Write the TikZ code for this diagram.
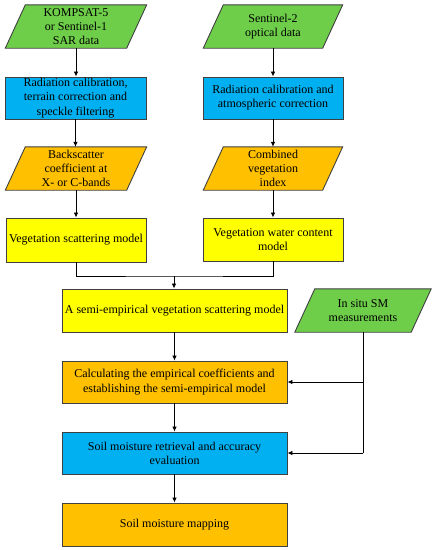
\documentclass[tikz,border=0pt]{standalone}
\usepackage{fontspec}
\setmainfont{Liberation Serif}
\usetikzlibrary{arrows.meta,backgrounds}
\definecolor{cgreen}{RGB}{110,206,74}
\definecolor{cblue}{RGB}{0,176,240}
\definecolor{corange}{RGB}{255,192,0}
\definecolor{cyellow}{RGB}{255,255,0}
\definecolor{cline}{RGB}{64,64,64}
\begin{document}
\begin{tikzpicture}[x=1pt,y=-1pt,
  font=\fontsize{12}{14.2}\selectfont,
  base/.style={inner sep=0pt,align=center,minimum height=43pt},
  boxnode/.style={base,draw=cline,line width=0.9pt,rectangle},
  paranode/.style={base,rectangle},
  link/.style={draw=black,line width=0.8pt},
  arr/.style={link,-{Latex[length=5pt,width=4.5pt]}}
]
\useasboundingbox (0,0) rectangle (436,550);
% parallelogram data nodes
\node[paranode,minimum width=121pt] (sar) at (76,26.5) {KOMPSAT-5\\or Sentinel-1\\SAR data};
\node[paranode,minimum width=119pt] (opt) at (273,26.5) {Sentinel-2\\optical data};
\node[paranode,minimum width=121pt] (bsc) at (76,168.5) {Backscatter\\coefficient at\\X- or C-bands};
\node[paranode,minimum width=119pt] (cvi) at (273,168.5) {Combined\\vegetation\\index};
\node[paranode,minimum width=116pt] (insitu) at (363,310.5) {In situ SM\\measurements};
\begin{scope}[on background layer]
\foreach \n/\c in {sar/cgreen,opt/cgreen,bsc/corange,cvi/corange,insitu/cgreen}{
  \filldraw[fill=\c,draw=cline,line width=0.9pt]
    ([xshift=10pt]\n.north west) -- ([xshift=10pt]\n.north east) --
    ([xshift=-10pt]\n.south east) -- ([xshift=-10pt]\n.south west) -- cycle;
}
\end{scope}
% process boxes
\node[boxnode,fill=cblue,minimum width=141pt,minimum height=42pt] (pre1) at (75.5,98) {Radiation calibration,\\terrain correction and\\speckle filtering};
\node[boxnode,fill=cblue,minimum width=140pt,minimum height=42pt] (pre2) at (273,98) {Radiation calibration and\\atmospheric correction};
\node[boxnode,fill=cyellow,minimum width=140pt,minimum height=44pt] (vsm) at (76,240) {Vegetation scattering model};
\node[boxnode,fill=cyellow,minimum width=140pt,minimum height=43pt] (vwc) at (273,239.5) {Vegetation water content\\model};
\node[boxnode,fill=cyellow,minimum width=225pt] (semi) at (174.5,310.5) {A semi-empirical vegetation scattering model};
\node[boxnode,fill=corange,minimum width=225pt,minimum height=42pt] (calc) at (174.5,382) {Calculating the empirical coefficients and\\establishing the semi-empirical model};
\node[boxnode,fill=cblue,minimum width=225pt,minimum height=42pt] (smr) at (174.5,453) {Soil moisture retrieval and accuracy\\evaluation};
\node[boxnode,fill=corange,minimum width=225pt] (map) at (174.5,524.5) {Soil moisture mapping};
% connectors
\draw[arr] (sar.south) -- (sar.south |- pre1.north);
\draw[arr] (opt.south) -- (opt.south |- pre2.north);
\draw[arr] (pre1.south) -- (pre1.south |- bsc.north);
\draw[arr] (pre2.south) -- (pre2.south |- cvi.north);
\draw[arr] (bsc.south) -- (bsc.south |- vsm.north);
\draw[arr] (cvi.south) -- (cvi.south |- vwc.north);
\coordinate (j) at (174,276);
\draw[link] (vsm.south) |- (j) -| (vwc.south);
\draw[arr] (j) -- (j |- semi.north);
\draw[arr] (semi.south) -- (calc.north);
\draw[arr] (calc.south) -- (smr.north);
\draw[arr] (smr.south) -- (map.north);
\draw[link] (insitu.south) -- (insitu.south |- smr.east);
\draw[arr] (insitu.south |- calc.east) -- (calc.east);
\draw[arr] (insitu.south |- smr.east) -- (smr.east);
\end{tikzpicture}
\end{document}
